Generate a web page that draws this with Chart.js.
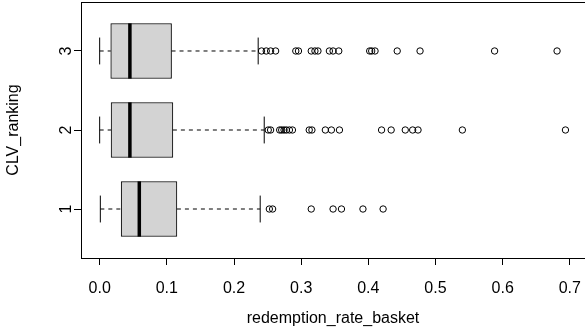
<!DOCTYPE html>
<html>
<head>
<meta charset="utf-8">
<script src="https://cdn.jsdelivr.net/npm/chart.js@4/dist/chart.umd.min.js"></script>
<style>
  html,body{ margin:0; padding:0; background:#fff; }
  #c{ display:block; }
</style>
</head>
<body>
<canvas id="c" width="585" height="334"></canvas>
<script>
// CLV_ranking groups (y positions)
const categories = [1, 2, 3];
const xTicks = [0, 0.1, 0.2, 0.3, 0.4, 0.5, 0.6, 0.7];

// five-number summaries
const whiskerLow  = [0.001, 0.0, 0.0];
const q1          = [0.032, 0.017, 0.0165];
const median      = [0.059, 0.045, 0.045];
const q3          = [0.115, 0.109, 0.107];
const whiskerHigh = [0.239, 0.245, 0.236];

const outliers1 = [0.2526, 0.2575, 0.315, 0.3475, 0.36, 0.392, 0.422];
const outliers2 = [0.251, 0.2545, 0.268, 0.271, 0.2745, 0.278, 0.2825, 0.287,
  0.312, 0.316, 0.336, 0.345, 0.357, 0.4197, 0.434, 0.455, 0.466, 0.474, 0.54, 0.6935];
const outliers3 = [0.241, 0.248, 0.2545, 0.262, 0.292, 0.296, 0.315, 0.3205, 0.325,
  0.342, 0.3475, 0.356, 0.402, 0.405, 0.41, 0.443, 0.477, 0.588, 0.681];
const outliers = [outliers1, outliers2, outliers3];

const BOX_HALF = 0.35;     // half box height, in y units
const STAPLE_HALF = 0.17;
const FONT = "'Liberation Sans', Arial, Helvetica, sans-serif";

const seg = (x0, y0, x1, y1, extra) => Object.assign({
  type: "line",
  data: [{x:x0, y:y0}, {x:x1, y:y1}],
  borderColor: "#000",
  borderWidth: 1,
  pointRadius: 0,
  fill: false,
  order: 1
}, extra || {});

const datasets = [];

// boxes (drawn underneath everything else)
datasets.push({
  type: "bar",
  data: categories.map((c,i)=>({ y:c, x:[q1[i], q3[i]] })),
  backgroundColor: "#d3d3d3",
  borderColor: "#000",
  borderWidth: 1,
  borderSkipped: false,
  barThickness: 55,
  order: 5
});

categories.forEach((c,i)=>{
  // dashed whiskers
  datasets.push(seg(whiskerLow[i], c, q1[i], c, { borderDash:[4,4] }));
  datasets.push(seg(q3[i], c, whiskerHigh[i], c, { borderDash:[4,4] }));
  // staples
  datasets.push(seg(whiskerLow[i], c-STAPLE_HALF, whiskerLow[i], c+STAPLE_HALF));
  datasets.push(seg(whiskerHigh[i], c-STAPLE_HALF, whiskerHigh[i], c+STAPLE_HALF));
  // median
  datasets.push(seg(median[i], c-BOX_HALF, median[i], c+BOX_HALF, { borderWidth:3.5, borderCapStyle:"butt", order:0 }));
  // outliers
  datasets.push({
    type: "scatter",
    data: outliers[i].map(v=>({ x:v, y:c })),
    pointStyle: "circle",
    pointRadius: 3.2,
    pointBorderWidth: 1,
    pointBorderColor: "#000",
    pointBackgroundColor: "rgba(0,0,0,0)",
    order: 0
  });
});

const frame = {
  id: "frame",
  afterDraw(chart){
    const {ctx, chartArea:a} = chart;
    ctx.save();
    ctx.strokeStyle = "#000";
    ctx.lineWidth = 1;
    ctx.strokeRect(Math.round(a.left)+0.5, Math.round(a.top)+0.5, Math.round(a.right-a.left), Math.round(a.bottom-a.top));
    ctx.restore();
  }
};

new Chart(document.getElementById("c"), {
  type: "bar",
  data: { datasets },
  plugins: [frame],
  options: {
    responsive: false,
    animation: false,
    indexAxis: "y",
    layout: { autoPadding: false, padding: { top: 2, right: -2, left: 0, bottom: 0 } },
    plugins: { legend:{ display:false }, tooltip:{ enabled:false } },
    scales: {
      x: {
        type: "linear",
        min: -0.0278,
        max: 0.7226,
        offset: false,
        afterFit: s => { s.height = 76; s.paddingLeft = 0; s.paddingRight = 0; },
        afterBuildTicks: s => { s.ticks = xTicks.map(v=>({ value:v })); },
        border: { display:false },
        grid: { display:true, offset:false, drawOnChartArea:false, drawTicks:true, tickLength:7, color:"#000" },
        ticks: { color:"#000", padding:14, font:{ family:FONT, size:16 }, callback: v => v.toFixed(1) },
        title: { display:true, text:"redemption_rate_basket", color:"#000", font:{ family:FONT, size:16 }, padding:{ top:0, bottom:6 } }
      },
      y: {
        type: "linear",
        min: 0.38,
        max: 3.62,
        offset: false,
        afterFit: s => { s.width = 81; s.paddingTop = 0; s.paddingBottom = 0; },
        afterBuildTicks: s => { s.ticks = categories.map(v=>({ value:v })); },
        border: { display:false },
        grid: { display:true, offset:false, drawOnChartArea:false, drawTicks:true, tickLength:7, color:"#000" },
        ticks: { color:"#000", padding:3, crossAlign:"center", minRotation:90, maxRotation:90, font:{ family:FONT, size:16 }, callback: v => String(v) },
        title: { display:true, text:"CLV_ranking", color:"#000", font:{ family:FONT, size:16 }, padding:{ top:4, bottom:0 } }
      }
    }
  }
});
</script>
</body>
</html>
